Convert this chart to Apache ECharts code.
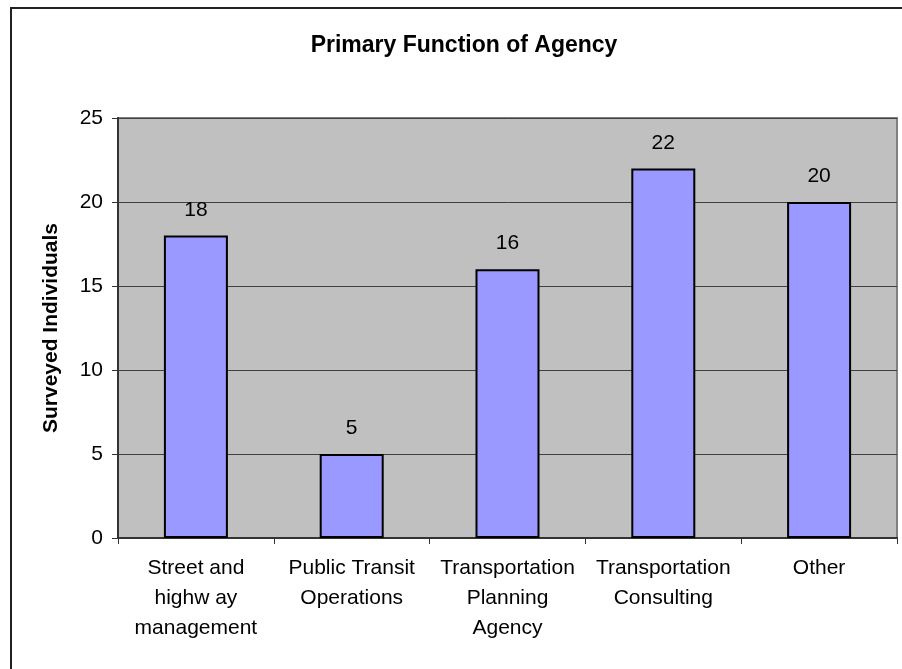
<!DOCTYPE html>
<html>
<head>
<meta charset="utf-8">
<script src="https://cdn.jsdelivr.net/npm/echarts@6/dist/echarts.min.js"></script>
<style>
  html, body { margin: 0; padding: 0; background: #fff; }
  #chart { width: 902px; height: 669px; }
</style>
</head>
<body>
<div id="chart"></div>
<script>
var categories = ['Street and\nhighw ay\nmanagement', 'Public Transit\nOperations', 'Transportation\nPlanning\nAgency', 'Transportation\nConsulting', 'Other'];
var values = [18, 5, 16, 22, 20];
var yTicks = { min: 0, max: 25, interval: 5 };

var myChart = echarts.init(document.getElementById('chart'));
var font = 'Liberation Sans, Arial, sans-serif';
var option = {
    animation: false,
    title: {
        text: 'Primary Function of Agency',
        left: 459,
        top: 29,
        textAlign: 'center',
        textStyle: { fontFamily: font, fontSize: 23, fontWeight: 'bold', color: '#000' }
    },
    // outer frame of the chart
    graphic: [{
        type: 'rect',
        shape: { x: 11, y: 8, width: 910, height: 680 },
        style: { fill: 'none', stroke: '#222', lineWidth: 2 },
        silent: true
    }],
    grid: {
        left: 118, top: 118, right: 5, bottom: 131,
        show: true,
        backgroundColor: '#C0C0C0',
        borderColor: '#808080',
        borderWidth: 2
    },
    xAxis: {
        type: 'category',
        data: categories,
        axisLine: { lineStyle: { color: '#333', width: 2 } },
        axisTick: { show: true, length: 6, lineStyle: { color: '#333' } },
        axisLabel: { interval: 0, color: '#000', fontFamily: font, fontSize: 21, lineHeight: 30, margin: 15 }
    },
    yAxis: {
        type: 'value',
        min: yTicks.min, max: yTicks.max, interval: yTicks.interval,
        name: 'Surveyed Individuals',
        nameLocation: 'middle',
        nameGap: 56,
        nameTextStyle: { fontFamily: font, fontSize: 21, fontWeight: 'bold', color: '#000' },
        axisLine: { show: true, lineStyle: { color: '#333', width: 2 } },
        axisTick: { show: true, length: 6, lineStyle: { color: '#333' } },
        axisLabel: { color: '#000', fontFamily: font, fontSize: 21, margin: 15 },
        splitLine: { lineStyle: { color: '#404040', width: 1 } }
    },
    series: [{
        type: 'bar',
        data: values,
        barWidth: 64,
        itemStyle: { color: '#9999FF', borderColor: '#000', borderWidth: 2 },
        label: {
            show: true, position: 'top', distance: 15,
            color: '#000', fontFamily: font, fontSize: 21
        }
    }]
};
myChart.setOption(option);
</script>
</body>
</html>
